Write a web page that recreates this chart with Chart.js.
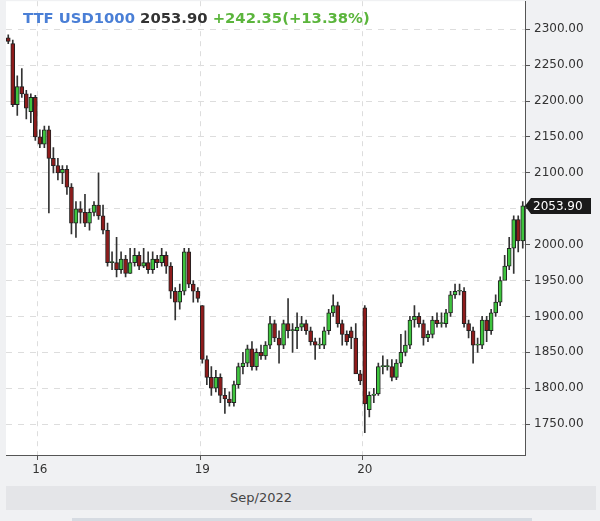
<!DOCTYPE html>
<html><head><meta charset="utf-8">
<script src="https://cdn.jsdelivr.net/npm/chart.js@4"></script>
<style>
body{margin:0;background:#f0f1f3;font-family:"DejaVu Sans",sans-serif;}
#wrap{position:relative;width:600px;height:521px;overflow:hidden;}
#c{position:absolute;left:0;top:-10px;}
#title{position:absolute;left:23px;top:9px;font-size:14.8px;font-weight:bold;}
#band{position:absolute;left:6px;top:486px;width:590px;height:24px;background:#e4e5e8;text-align:center;line-height:24px;font-size:13px;color:#444;}
#band span{position:relative;left:-40px;}
#sb{position:absolute;left:72px;top:518px;width:460px;height:3px;background:#d6dbe2;}
</style></head><body>
<div id="wrap"><canvas id="c" width="600" height="490"></canvas>
<div id="title"><span style="color:#4a7fd6">TTF USD1000</span> <span style="color:#333">2053.90</span> <span style="color:#5bb53c">+242.35(+13.38%)</span></div>
<div id="band"><span>Sep/2022</span></div><div id="sb"></div></div>
<script>
const openP =[2288,2280,2195,2220,2210,2185,2205,2150,2140,2160,2120,2110,2100,2105,2080,2030,2050,2045,2030,2045,2055,2040,2020,1975,1975,1965,1980,1960,1975,1985,1970,1975,1965,1980,1975,1985,1970,1935,1920,1935,1990,1945,1935,1915,1840,1815,1800,1815,1790,1785,1780,1805,1830,1835,1855,1830,1850,1845,1860,1890,1870,1860,1890,1880,1880,1885,1890,1880,1865,1860,1860,1880,1905,1915,1890,1875,1880,1870,1820,1912,1770,1790,1792,1830,1830,1830,1815,1835,1850,1860,1895,1900,1890,1870,1875,1895,1890,1890,1905,1930,1935,1935,1890,1880,1860,1860,1895,1880,1905,1920,1950,1970,1995,2035,2005];
const highP =[2292,2285,2235,2245,2215,2210,2208,2160,2165,2165,2135,2120,2110,2110,2085,2060,2060,2070,2050,2060,2100,2055,2030,1990,2010,1990,1985,1995,1995,1990,1995,1990,1990,1985,1995,1990,1975,1940,1945,1995,1995,1950,1940,1915,1845,1830,1825,1820,1800,1795,1810,1835,1850,1860,1865,1855,1860,1865,1900,1895,1880,1895,1925,1890,1905,1900,1895,1885,1870,1870,1885,1910,1930,1920,1895,1880,1885,1890,1825,1915,1795,1800,1835,1845,1840,1840,1840,1875,1880,1900,1915,1905,1895,1880,1900,1905,1905,1910,1935,1945,1945,1940,1895,1885,1870,1900,1900,1910,1930,1955,1985,2010,2040,2040,2060];
const lowP  =[2280,2192,2180,2205,2175,2170,2145,2135,2135,2044,2100,2090,2085,2070,2015,2010,2030,2025,2020,2040,2035,2015,1970,1965,1955,1960,1955,1960,1970,1965,1968,1960,1960,1968,1970,1960,1925,1895,1910,1930,1940,1920,1920,1835,1805,1790,1795,1780,1765,1775,1775,1800,1820,1830,1825,1825,1840,1840,1855,1865,1835,1855,1870,1850,1855,1880,1875,1860,1840,1855,1855,1875,1900,1885,1860,1860,1855,1865,1805,1738,1760,1780,1790,1820,1825,1810,1812,1830,1845,1855,1885,1885,1860,1865,1870,1885,1885,1885,1900,1925,1930,1885,1870,1835,1850,1855,1865,1875,1900,1915,1965,1965,1960,1990,1995];
const closeP=[2283,2195,2220,2210,2190,2205,2150,2140,2160,2120,2110,2100,2105,2080,2030,2050,2045,2030,2045,2055,2040,2020,1975,1975,1965,1980,1960,1975,1985,1970,1975,1965,1980,1975,1985,1970,1935,1920,1935,1990,1945,1935,1925,1840,1815,1800,1815,1790,1785,1780,1805,1830,1835,1855,1830,1850,1845,1860,1890,1870,1860,1890,1880,1880,1885,1890,1880,1865,1860,1860,1880,1905,1915,1890,1875,1865,1870,1820,1810,1778,1790,1792,1830,1830,1830,1815,1835,1850,1860,1895,1900,1890,1870,1875,1895,1890,1890,1905,1930,1935,1935,1890,1880,1860,1860,1895,1880,1905,1920,1950,1970,1995,2035,2005,2054];
const dayLabels={7:'16',43:'19',79:'20'};
const yTicks=[1750,1800,1850,1900,1950,2000,2050,2100,2150,2200,2250,2300];
const lastPrice=2053.90;
const labels=openP.map((_,i)=>dayLabels[i]||'');
const up=openP.map((o,i)=>closeP[i]>=o);
const bgPlugin={id:'bg',beforeDraw(c){const a=c.chartArea,x=c.ctx;x.save();x.fillStyle='#fff';x.fillRect(a.left,a.top,a.right-a.left,a.bottom-a.top);x.restore();},
afterDraw(c){const x=c.ctx,y=c.scales.y.getPixelForValue(lastPrice),a=c.chartArea;x.save();x.fillStyle='#1a1a1a';x.beginPath();x.moveTo(a.right,y);x.lineTo(a.right+6,y-8);x.lineTo(a.right+66,y-8);x.lineTo(a.right+66,y+8);x.lineTo(a.right+6,y+8);x.closePath();x.fill();x.fillStyle='#fff';x.font='12px "DejaVu Sans"';x.textBaseline='middle';x.fillText(lastPrice.toFixed(2),a.right+8,y+1);x.restore();}};
new Chart(document.getElementById('c'),{type:'bar',data:{labels,datasets:[
{data:lowP.map((l,i)=>[l,highP[i]]),backgroundColor:'#333',barThickness:1,grouped:false,order:2},
{data:openP.map((o,i)=>[o,o===closeP[i]?o+1.5:closeP[i]]),backgroundColor:up.map(u=>u?'#3ec43e':'#8e1b1b'),borderColor:'#222',borderWidth:1,borderSkipped:false,barThickness:4,grouped:false,order:1}]},
options:{responsive:false,animation:false,events:[],layout:{padding:{left:6,top:0,right:0,bottom:0}},
plugins:{legend:{display:false},tooltip:{enabled:false}},
scales:{x:{offset:true,grid:{color:c=>dayLabels[c.index]?'#ddd':'transparent',drawTicks:true,tickColor:c=>dayLabels[c.index]?'#555':'transparent',tickLength:5,tickBorderDash:[5,5]},border:{color:'#555',dash:[5,5]},
ticks:{autoSkip:false,maxRotation:0,color:'#333',font:{size:12,family:'DejaVu Sans'},callback:(v,i)=>labels[i]},afterFit(s){s.height=25;}},
y:{position:'right',min:1707,max:2339,afterBuildTicks(s){s.ticks=yTicks.map(v=>({value:v}));},grid:{color:'#ddd',tickColor:'#555',tickLength:5},border:{color:'#555',dash:[6,6]},
ticks:{color:'#333',font:{size:12,family:'DejaVu Sans'},callback:v=>v.toFixed(2),padding:4},afterFit(s){s.width=75;}}}},
plugins:[bgPlugin]});
</script></body></html>
